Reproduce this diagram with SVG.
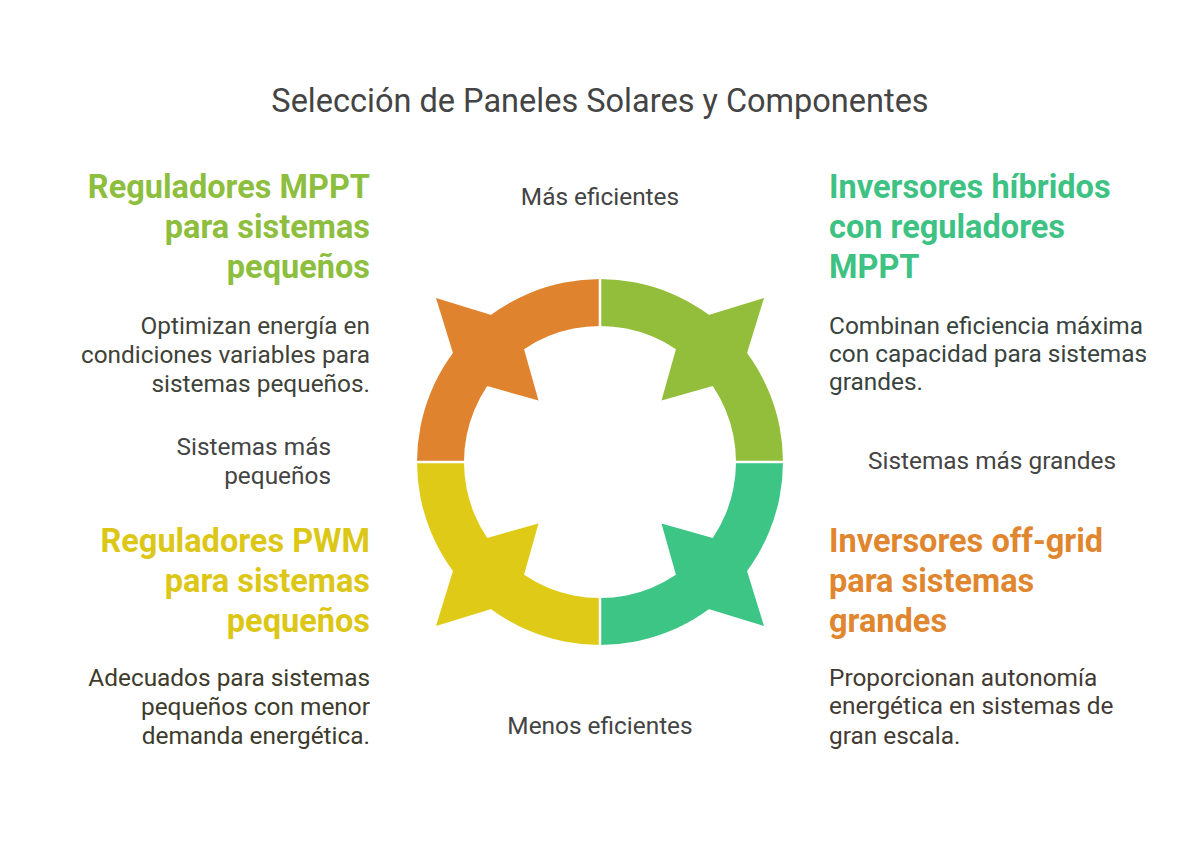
<svg xmlns="http://www.w3.org/2000/svg" width="1200" height="846" viewBox="0 0 1200 846">
<style>
text{font-family:Roboto,"Liberation Sans",sans-serif}
.title{font-size:32.5px;fill:#444444}
.h{font-size:32.5px;font-weight:bold}
.b{font-size:24.4px}
.lbl{font-size:24.4px;fill:#444444}
.r{text-anchor:end}
.c{text-anchor:middle}
.gap{stroke:#ffffff;stroke-width:2.5}
</style>
<defs>
<g id="quad">
<path d="M417 462 A183 183 0 0 1 600 279 L600 326 A136 136 0 0 0 464 462 Z"/>
<polygon points="436,298 516.6,322.8 538.5,400.5 460.8,378.6"/>
</g>
</defs>
<rect width="1200" height="846" fill="#ffffff"/>
<text class="title c" x="600" y="112">Selección de Paneles Solares y Componentes</text>
<g id="ring">
<use href="#quad" fill="#E0832F"/>
<use href="#quad" fill="#93BE3B" transform="rotate(90 600 462)"/>
<use href="#quad" fill="#3DC585" transform="rotate(180 600 462)"/>
<use href="#quad" fill="#DFCB17" transform="rotate(270 600 462)"/>
</g>
<g id="connectors">
<line class="gap" x1="600" y1="270" x2="600" y2="655"/>
<line class="gap" x1="405" y1="462" x2="795" y2="462"/>
</g>
<g id="axis-labels">
<text class="lbl c" x="600" y="205">Más eficientes</text>
<text class="lbl c" x="600" y="734">Menos eficientes</text>
<text class="lbl r" x="331" y="455">Sistemas más</text>
<text class="lbl r" x="331" y="484">pequeños</text>
<text class="lbl" x="868" y="469">Sistemas más grandes</text>
</g>
<g id="node-mppt">
<text class="h r" fill="#8DBE3E" x="370" y="198">Reguladores MPPT</text>
<text class="h r" fill="#8DBE3E" x="370" y="238">para sistemas</text>
<text class="h r" fill="#8DBE3E" x="370" y="278">pequeños</text>
<text class="b r" fill="#3f4238" x="370" y="334">Optimizan energía en</text>
<text class="b r" fill="#3f4238" x="370" y="363">condiciones variables para</text>
<text class="b r" fill="#3f4238" x="370" y="392">sistemas pequeños.</text>
</g>
<g id="node-hibridos">
<text class="h" fill="#3DC283" x="829" y="198">Inversores híbridos</text>
<text class="h" fill="#3DC283" x="829" y="238">con reguladores</text>
<text class="h" fill="#3DC283" x="829" y="278">MPPT</text>
<text class="b" fill="#38433e" x="829" y="334">Combinan eficiencia máxima</text>
<text class="b" fill="#38433e" x="829" y="362">con capacidad para sistemas</text>
<text class="b" fill="#38433e" x="829" y="390">grandes.</text>
</g>
<g id="node-pwm">
<text class="h r" fill="#DCC716" x="370" y="552">Reguladores PWM</text>
<text class="h r" fill="#DCC716" x="370" y="592">para sistemas</text>
<text class="h r" fill="#DCC716" x="370" y="632">pequeños</text>
<text class="b r" fill="#3d3b2c" x="370" y="686">Adecuados para sistemas</text>
<text class="b r" fill="#3d3b2c" x="370" y="715">pequeños con menor</text>
<text class="b r" fill="#3d3b2c" x="370" y="744">demanda energética.</text>
</g>
<g id="node-offgrid">
<text class="h" fill="#E0862F" x="829" y="552">Inversores off-grid</text>
<text class="h" fill="#E0862F" x="829" y="592">para sistemas</text>
<text class="h" fill="#E0862F" x="829" y="632">grandes</text>
<text class="b" fill="#433b33" x="829" y="686">Proporcionan autonomía</text>
<text class="b" fill="#433b33" x="829" y="714">energética en sistemas de</text>
<text class="b" fill="#433b33" x="829" y="744">gran escala.</text>
</g>
</svg>
